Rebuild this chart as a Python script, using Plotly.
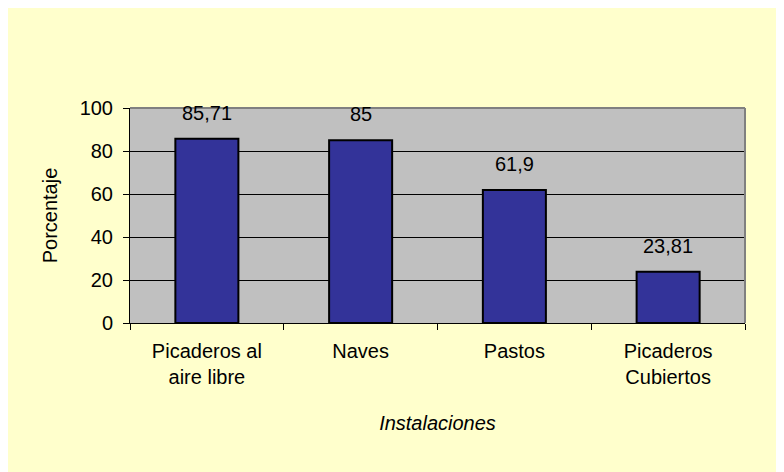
import plotly.graph_objects as go

# Datos del gráfico
categorias = ['Picaderos al<br>aire libre', 'Naves', 'Pastos', 'Picaderos<br>Cubiertos']
porcentajes = [85.71, 85, 61.9, 23.81]
etiquetas = [str(v).replace('.', ',') for v in porcentajes]
ticks_y = [0, 20, 40, 60, 80, 100]

FONT = 'Liberation Sans, Arial, sans-serif'
FS = 20

fig = go.Figure()
fig.add_trace(go.Bar(
    x=categorias,
    y=porcentajes,
    marker=dict(color='#333399', line=dict(color='black', width=2)),
    hoverinfo='x+y',
))

# Etiquetas de datos encima de cada barra
for cat, val, txt in zip(categorias, porcentajes, etiquetas):
    fig.add_annotation(x=cat, y=val, text=txt, showarrow=False,
                       yanchor='middle', yshift=26,
                       font=dict(family=FONT, size=FS, color='black'))

fig.update_layout(
    width=784, height=472,
    margin=dict(l=122, r=47, t=100, b=157),
    paper_bgcolor='#FFFFCC',
    plot_bgcolor='#C0C0C0',
    bargap=0.59,
    showlegend=False,
    font=dict(family=FONT, size=FS, color='black'),
    xaxis=dict(
        title=dict(text='<i>Instalaciones</i>', font=dict(size=FS), standoff=28),
        showline=True, linecolor='black', linewidth=1,
        ticks='outside', tickson='boundaries', ticklen=6, tickcolor='black',
        ticklabelstandoff=10,
        showgrid=False,
    ),
    yaxis=dict(
        title=dict(text='Porcentaje', font=dict(size=FS), standoff=16),
        range=[0, 100], tickvals=ticks_y,
        showline=True, linecolor='black', linewidth=1,
        ticks='outside', ticklen=6, tickcolor='black',
        ticklabelstandoff=6,
        showgrid=True, gridcolor='black', gridwidth=1,
        zeroline=False,
    ),
    shapes=[
        # borde gris superior y derecho del área de trazado
        dict(type='line', xref='paper', yref='paper', x0=0, x1=1, y0=1, y1=1,
             line=dict(color='#808080', width=2)),
        dict(type='line', xref='paper', yref='paper', x0=1, x1=1, y0=0, y1=1,
             line=dict(color='#808080', width=2)),
    ],
)

fig.write_html('out.html')
